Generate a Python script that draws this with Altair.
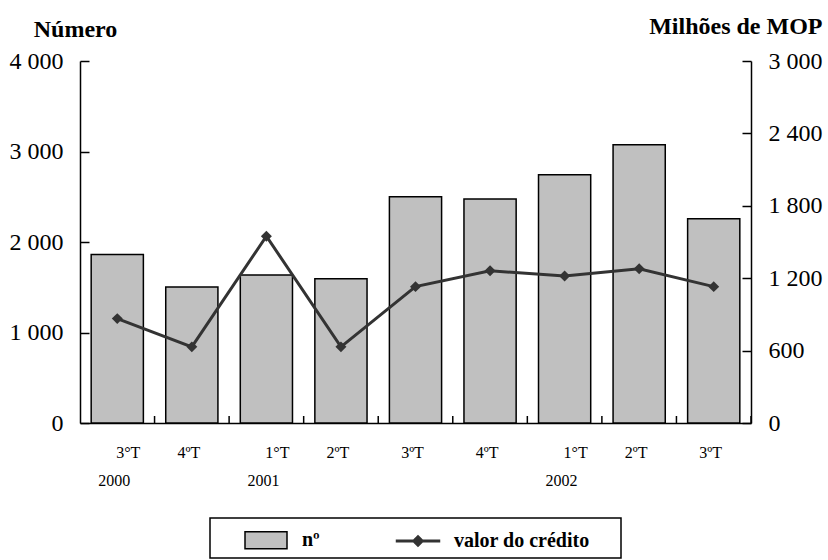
import json

import altair as alt
import pandas as pd

# Quarterly loans: number of contracts (bars, left axis) and credit value (line, right axis)
trimestres = ["3°T", "4ºT", "1°T", "2ºT", "3ºT", "4ºT", "1°T", "2ºT", "3ºT"]
anos = ["2000", "2000", "2001", "2001", "2001", "2001", "2002", "2002", "2002"]
numero = [1862, 1503, 1634, 1594, 2501, 2476, 2744, 3074, 2256]
credito = [865, 631, 1548, 631, 1130, 1262, 1218, 1278, 1130]
series = ["nº", "valor do crédito"]

ticks_esq = [0, 1000, 2000, 3000, 4000]
ticks_dir = [0, 600, 1200, 1800, 2400, 3000]

periodo = [f"{t} {a}" for t, a in zip(trimestres, anos)]
df = pd.DataFrame({"periodo": periodo, "numero": numero, "credito": credito})
df_leg = pd.DataFrame({"serie": series})

# non-breaking spaces behind a zero-width space, so label trimming keeps them
NBSP = "\u00a0"
ZWSP = "\u200b"

# two-line category labels: quarter, and the year under the first quarter of each year
rotulos = {}
anterior = None
for p, t, a in zip(periodo, trimestres, anos):
    novo = a != anterior
    rotulos[p] = [ZWSP + NBSP * 7 + t if novo else t, a if novo else ""]
    anterior = a
label_expr_x = json.dumps(rotulos, ensure_ascii=False) + "[datum.value]"

FONT = "Liberation Serif"
W, H = 671, 362
PAD = 0.3
GRAY = "#c0c0c0"
DARK = "#333333"

x_scale = alt.Scale(domain=periodo, paddingInner=PAD, paddingOuter=PAD / 2)
x_axis = alt.Axis(
    title=None,
    labelExpr=label_expr_x,
    labelFont=FONT,
    labelFontSize=16,
    labelColor="black",
    labelLineHeight=28,
    labelPadding=21,
    labelOffset=-3,
    labelAngle=0,
    ticks=False,
    grid=False,
    domainColor="black",
    domainWidth=1.5,
)


def x_enc(**kw):
    return alt.X("periodo:N", scale=x_scale, axis=x_axis, **kw)


num_fmt = "replace(format(datum.value, ',d'), ',', ' ')"
common_y = dict(
    labelExpr=num_fmt,
    labelFont=FONT,
    labelFontSize=24,
    labelColor="black",
    labelPadding=17,
    ticks=False,
    grid=True,
    gridDash=[9, 4000],
    gridColor="black",
    gridWidth=1.5,
    gridOpacity=1,
    domainColor="black",
    domainWidth=1.5,
    titleAngle=0,
    titleBaseline="alphabetic",
    titleFont=FONT,
    titleFontSize=24,
    titleFontWeight="bold",
    titleColor="black",
)

bars = alt.Chart(df).mark_bar(fill=GRAY, stroke="black", strokeWidth=1.5).encode(
    x=x_enc(),
    y=alt.Y(
        "numero:Q",
        scale=alt.Scale(domain=[0, 4000]),
        axis=alt.Axis(
            orient="left",
            values=ticks_esq,
            title="Número",
            titleAlign="center",
            titleX=-5,
            titleY=-25,
            **common_y,
        ),
    ),
)

line = alt.Chart(df).mark_line(
    color=DARK,
    strokeWidth=3,
    point=alt.OverlayMarkDef(shape="diamond", filled=True, size=120, color=DARK, opacity=1),
).encode(
    x=x_enc(),
    y=alt.Y(
        "credito:Q",
        scale=alt.Scale(domain=[0, 3000]),
        axis=alt.Axis(
            orient="right",
            values=ticks_dir,
            title="Milhões de MOP",
            titleAlign="right",
            titleX=71,
            titleY=-28,
            **common_y,
        ),
    ),
)

# small upward ticks at the boundaries between quarters (half a gap past each bar)
half_gap = (PAD / 2) * W / len(periodo)
xticks = alt.Chart(df).mark_rule(color="black", strokeWidth=1.5, xOffset=half_gap).encode(
    x=x_enc(bandPosition=1),
    y=alt.value(H),
    y2=alt.value(H - 7),
)

# legend symbols: a grey box for the count, a line with a diamond for the value
SYM_BOX = "M-1.4,-0.567H1.4V0.567H-1.4Z"
SYM_LINE = "M-1.433,-0.05H1.433V0.05H-1.433Z M0,-0.35L0.35,0L0,0.35L-0.35,0Z"
leg = alt.Legend(
    title=NBSP,
    titleOrient="left",
    titlePadding=34,
    titleFont=FONT,
    titleFontSize=20,
    orient="none",
    legendX=130,
    legendY=457,
    direction="horizontal",
    symbolSize=900,
    symbolStrokeWidth=1.5,
    symbolOpacity=1,
    labelFont=FONT,
    labelFontSize=20,
    labelFontWeight="bold",
    labelColor="black",
    labelOffset=20,
    labelLimit=400,
    labelExpr="datum.label == 'valor do crédito' ? datum.label + '" + NBSP * 5 + ZWSP + "' : datum.label",
    columnPadding=73,
    padding=6,
    strokeColor="black",
    fillColor="white",
)
legend_layer = alt.Chart(df_leg).mark_point(filled=True).encode(
    shape=alt.Shape("serie:N", scale=alt.Scale(domain=series, range=[SYM_BOX, SYM_LINE]), legend=leg),
    fill=alt.Fill("serie:N", scale=alt.Scale(domain=series, range=[GRAY, DARK]), legend=leg),
    stroke=alt.Stroke("serie:N", scale=alt.Scale(domain=series, range=["black", DARK]), legend=leg),
    opacity=alt.value(0),
)

chart = (
    alt.layer(bars, line, xticks, legend_layer)
    .resolve_scale(y="independent")
    .properties(
        width=W,
        height=H,
        autosize="none",
        padding={"left": 80, "top": 61, "right": 77, "bottom": 137},
        background="white",
    )
    .configure_view(stroke=None)
    .configure_legend(strokeWidth=1.5)
)

chart.save("out.html", embed_options={"renderer": "svg", "actions": False})
